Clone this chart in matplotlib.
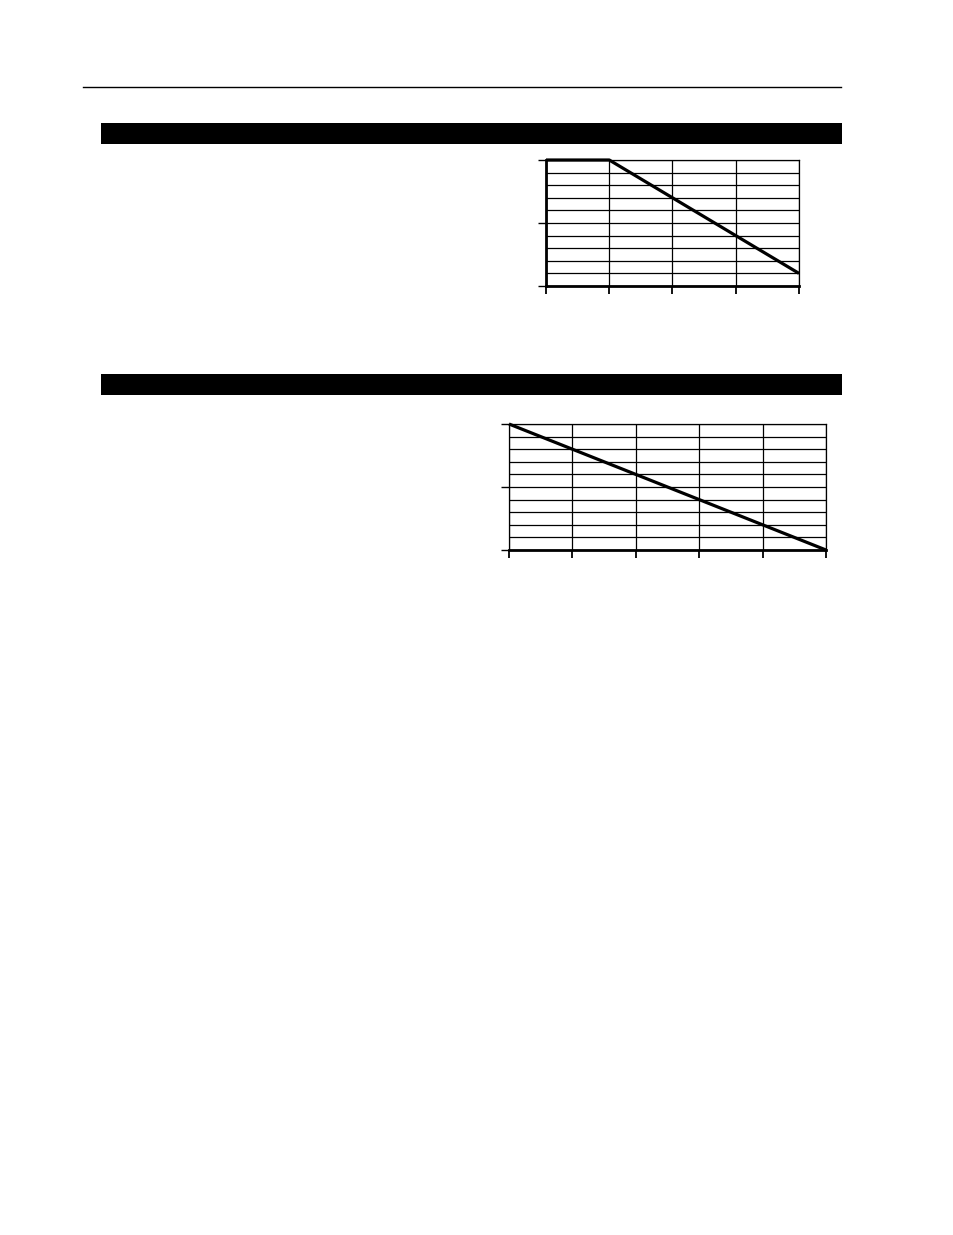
import matplotlib
matplotlib.use("Agg")
import matplotlib.pyplot as plt
from matplotlib.lines import Line2D
from matplotlib.patches import Rectangle

W, H = 954, 1235

# chart 1: flat, then falling
x1 = [0, 1, 4]
y1 = [10, 10, 1]
x1_ticks = [0, 1, 2, 3, 4]

# chart 2: straight fall
x2 = [0, 5]
y2 = [10, 0]
x2_ticks = [0, 1, 2, 3, 4, 5]

y_major = [0, 5, 10]
y_grid = list(range(11))

fig = plt.figure(figsize=(W / 100, H / 100), dpi=100)
fig.patch.set_facecolor('white')


def px_axes(left, top, right, bottom):
    return fig.add_axes([left / W, 1 - bottom / H, (right - left) / W, (bottom - top) / H])


# page rule and black header bars
fig.add_artist(Line2D([83 / W, 841 / W], [1 - 87 / H, 1 - 87 / H], color='black', lw=1.0))
for top in (123, 374):
    fig.add_artist(Rectangle((101 / W, 1 - (top + 21) / H), 741 / W, 21 / H,
                             facecolor='black', edgecolor='none'))


def draw(ax, xs, ys, xticks, thick_left):
    ax.plot(xs, ys, color='black', lw=2.3, solid_capstyle='butt', zorder=5, clip_on=False)
    ax.set_xlim(xticks[0], xticks[-1])
    ax.set_ylim(0, 10)
    ax.set_xticks(xticks)
    ax.set_yticks(y_major)
    ax.set_yticks(y_grid, minor=True)
    ax.set_xticklabels([])
    ax.set_yticklabels([])
    ax.grid(True, which='both', color='black', lw=0.9)
    ax.set_axisbelow(True)
    ax.tick_params(axis='y', which='major', direction='out', length=6, width=1.0)
    ax.tick_params(axis='y', which='minor', length=0)
    ax.tick_params(axis='x', which='major', direction='out', length=6, width=1.3)
    for s in ax.spines.values():
        s.set_linewidth(0.9)
    ax.spines['bottom'].set_linewidth(2.0)
    if thick_left:
        ax.spines['left'].set_linewidth(2.0)


ax1 = px_axes(546, 160, 799, 286)
draw(ax1, x1, y1, x1_ticks, True)

ax2 = px_axes(509, 424, 826, 550)
draw(ax2, x2, y2, x2_ticks, False)

fig.savefig('out.png', dpi=100)
